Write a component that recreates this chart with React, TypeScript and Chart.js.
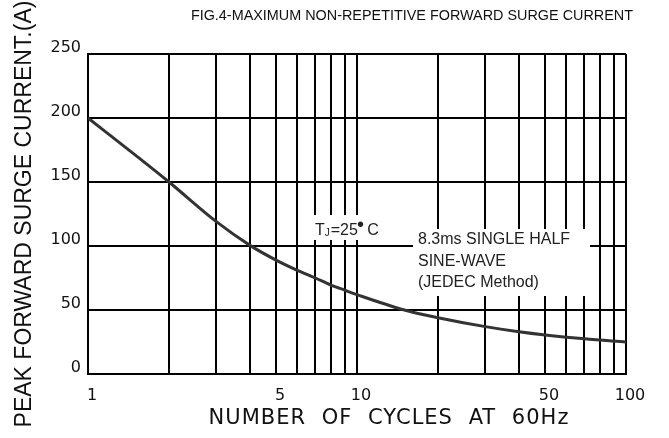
import React, { useEffect, useRef } from "react";
import { Chart, registerables } from "chart.js";

Chart.register(...registerables);

// ---- data ----
const cycles = [1, 1.5, 2, 3, 4, 5, 6, 7, 8, 9, 10, 15, 20, 30, 40, 50, 70, 100];
const surgeCurrent = [200, 171, 150, 119, 100.5, 89, 81, 75, 69.5, 65.5, 62, 50, 44, 37, 33, 30.5, 27.5, 25];
const xGridValues = [1, 2, 3, 4, 5, 6, 7, 8, 9, 10, 20, 30, 40, 50, 60, 70, 80, 90, 100];
const xTickLabels = [1, 5, 10, 50, 100];
const yTickValues = [0, 50, 100, 150, 200, 250];
const chartTitle = "FIG.4-MAXIMUM NON-REPETITIVE FORWARD SURGE CURRENT";
const xTitle = "NUMBER OF CYCLES AT 60Hz";
const yTitle = "PEAK FORWARD SURGE CURRENT.(A)";
const noteLines = ["8.3ms SINGLE HALF", "SINE-WAVE", "(JEDEC Method)"];

const ARIAL = '"Liberation Sans", Arial, sans-serif';
const STROKE = '"DejaVu Sans", sans-serif';

const annotations = {
  id: "annotations",
  afterDraw(chart: any) {
    const ctx = chart.ctx as CanvasRenderingContext2D;
    ctx.save();
    ctx.fillStyle = "#111";
    // chart title
    ctx.font = `14.4px ${ARIAL}`;
    ctx.textAlign = "right";
    ctx.textBaseline = "middle";
    ctx.fillText(chartTitle, 633, 16);

    // x axis title
    ctx.font = `21px ${STROKE}`;
    (ctx as any).letterSpacing = "1px";
    (ctx as any).wordSpacing = "8px";
    ctx.textAlign = "center";
    ctx.fillText(xTitle, 389, 419);
    (ctx as any).letterSpacing = "0px";
    (ctx as any).wordSpacing = "0px";

    // white backgrounds behind notes
    ctx.fillStyle = "#fff";
    ctx.fillRect(312, 215, 73, 25);
    ctx.fillRect(413, 229, 177, 67);

    // Tj = 25 C
    ctx.fillStyle = "#222";
    ctx.textAlign = "left";
    ctx.textBaseline = "alphabetic";
    let x = 315;
    const base = 235;
    ctx.font = `16px ${ARIAL}`;
    ctx.fillText("T", x, base);
    x += ctx.measureText("T").width;
    ctx.font = `10px ${ARIAL}`;
    ctx.fillText("J", x, base + 1);
    x += ctx.measureText("J").width + 1;
    ctx.font = `16px ${ARIAL}`;
    ctx.fillText("=25", x, base);
    x += ctx.measureText("=25").width;
    ctx.font = `20px ${ARIAL}`;
    ctx.fillText("•", x - 1, base - 4);
    x += ctx.measureText("•").width - 2;
    ctx.font = `16px ${ARIAL}`;
    ctx.fillText(" C", x, base);

    // note lines
    ctx.textBaseline = "middle";
    const ys = [240, 262, 283];
    noteLines.forEach((t, i) => ctx.fillText(t, 418, ys[i]));
    ctx.restore();
  },
};

export default function App() {
  const ref = useRef<HTMLCanvasElement | null>(null);

  useEffect(() => {
    document.body.style.margin = "0";
    const canvas = ref.current;
    if (!canvas) return;
    const chart = new Chart(canvas, {
      type: "line",
      data: {
        datasets: [
          {
            data: cycles.map((c, i) => ({ x: c, y: surgeCurrent[i] })),
            borderColor: "#333",
            borderWidth: 3,
            pointRadius: 0,
            cubicInterpolationMode: "monotone",
            fill: false,
          },
        ],
      },
      options: {
        animation: false,
        responsive: false,
        maintainAspectRatio: false,
        layout: { padding: { top: 54, right: 43, left: 0, bottom: 0 } },
        plugins: {
          legend: { display: false },
          tooltip: { enabled: false },
          title: { display: false },
        },
        scales: {
          x: {
            type: "logarithmic",
            min: 1,
            max: 100,
            afterBuildTicks: (scale: any) => {
              scale.ticks = xGridValues.map((v) => ({ value: v }));
            },
            afterFit: (scale: any) => {
              scale.height = 64;
            },
            grid: { color: "#000", lineWidth: 2, drawTicks: false },
            border: { color: "#000", width: 2 },
            ticks: {
              autoSkip: false,
              maxRotation: 0,
              padding: 12,
              labelOffset: 4,
              color: "#111",
              font: { family: STROKE, size: 16 },
              callback: (v: any) => (xTickLabels.includes(Number(v)) ? String(v) : ""),
            },
          },
          y: {
            type: "linear",
            min: 0,
            max: 250,
            afterBuildTicks: (scale: any) => {
              scale.ticks = yTickValues.map((v) => ({ value: v }));
            },
            afterFit: (scale: any) => {
              scale.width = 88;
            },
            grid: { color: "#000", lineWidth: 2, drawTicks: false },
            border: { color: "#000", width: 2 },
            ticks: {
              padding: 7,
              labelOffset: -6,
              color: "#111",
              font: { family: STROKE, size: 16 },
            },
            title: {
              display: true,
              text: yTitle,
              color: "#111",
              font: { family: ARIAL, size: 23 },
              padding: { top: 11, bottom: 0 },
            },
          },
        },
      },
      plugins: [annotations],
    });
    return () => chart.destroy();
  }, []);

  return (
    <div style={{ width: 669, height: 438 }}>
      <canvas ref={ref} width={669} height={438} />
    </div>
  );
}
